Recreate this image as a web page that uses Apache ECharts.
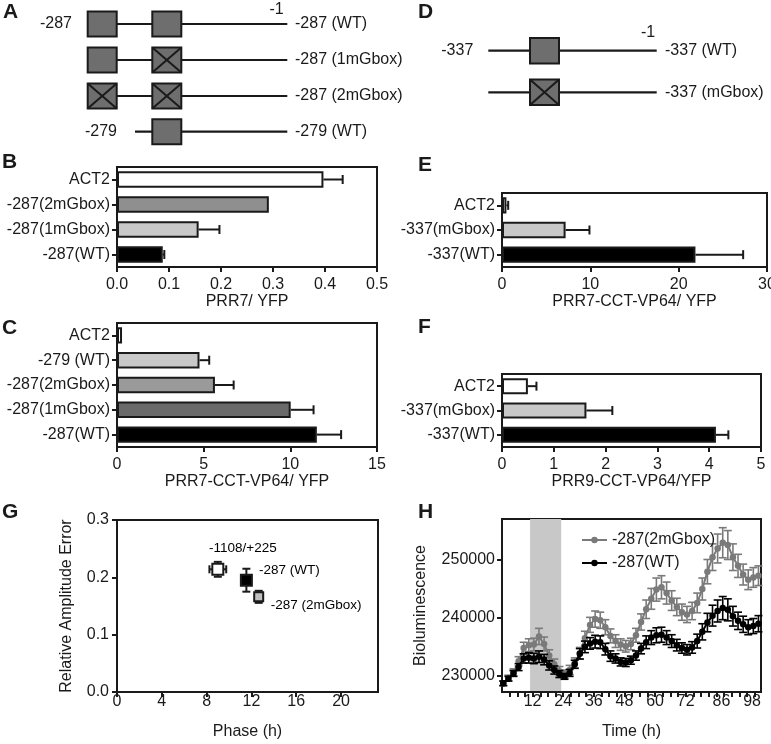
<!DOCTYPE html>
<html><head><meta charset="utf-8">
<script src="https://cdn.jsdelivr.net/npm/echarts@6/dist/echarts.min.js"></script>
<style>html,body{margin:0;padding:0;background:#fff}#c{width:771px;height:744px}</style>
</head><body><div id="c"></div><script>
// ---------------- DATA ----------------
// Panel A / D constructs
const aRows = [
  {left:'-287', boxes:['solid','solid'], name:'-287 (WT)'},
  {left:'',     boxes:['solid','mut'],   name:'-287 (1mGbox)'},
  {left:'',     boxes:['mut','mut'],     name:'-287 (2mGbox)'},
  {left:'-279', boxes:[null,'solid'],    name:'-279 (WT)'}
];
const dRows = [
  {left:'-337', boxes:['solid'], name:'-337 (WT)'},
  {left:'',     boxes:['mut'],   name:'-337 (mGbox)'}
];
// Panel B
const bCats = ['-287(WT)','-287(1mGbox)','-287(2mGbox)','ACT2'];
const bVals = [0.088, 0.157, 0.292, 0.397];
const bErr  = [0.003, 0.040, 0, 0.037];
const bTicks = [0, 0.1, 0.2, 0.3, 0.4, 0.5];
// Panel E
const eCats = ['-337(WT)','-337(mGbox)','ACT2'];
const eVals = [21.9, 7.2, 0.5];
const eErr  = [5.4, 2.7, 0.2];
const eTicks = [0, 10, 20, 30];
// Panel C
const cCats = ['-287(WT)','-287(1mGbox)','-287(2mGbox)','-279 (WT)','ACT2'];
const cVals = [11.53, 10.02, 5.65, 4.76, 0.29];
const cErr  = [1.40, 1.32, 1.08, 0.56, 0];
const cTicks = [0, 5, 10, 15];
// Panel F
const fCats = ['-337(WT)','-337(mGbox)','ACT2'];
const fVals = [4.13, 1.63, 0.50];
const fErr  = [0.24, 0.50, 0.165];
const fTicks = [0, 1, 2, 3, 4, 5];
// Panel G
const gNames    = ['-1108/+225','-287 (WT)','-287 (2mGbox)'];
const gPhase    = [9.0, 11.55, 12.65];
const gPhaseErr = [0.75, 0.25, 0.2];
const gAmp      = [0.214, 0.195, 0.166];
const gAmpErr   = [0.013, 0.020, 0.0105];
const gXTicks = [0, 4, 8, 12, 16, 20];
const gYTicks = [0, 0.1, 0.2, 0.3];
// Panel H
const hTime = [0.5,2.5,4.5,6.5,8.5,10.5,12.5,14.5,16.5,18.5,20.5,22.5,24.5,26.5,28.5,30.5,32.5,34.5,36.5,38.5,40.5,42.5,44.5,46.5,48.5,50.5,52.5,54.5,56.5,58.5,60.5,62.5,64.5,66.5,68.5,70.5,72.5,74.5,76.5,78.5,80.5,82.5,84.5,86.5,88.5,90.5,92.5,94.5,96.5,98.5,100.5];
const hWT = [228700,229500,230400,231500,233000,233100,233000,233300,232800,231800,231000,230300,229900,230500,232000,233800,235000,235600,235900,235800,234600,233400,233000,232400,232300,232700,233500,234700,235800,236600,237000,237100,236600,236000,235300,234800,234500,234900,236000,237600,239200,240400,241200,241700,241400,240300,239500,238900,238400,238600,239000];
const hWTErr = [400,400,500,600,800,900,900,1000,900,800,700,600,500,600,700,900,1000,1000,1100,1100,1000,900,800,700,700,700,800,900,1100,1200,1300,1300,1200,1100,1000,900,900,1000,1200,1400,1600,1800,1900,2000,1900,1700,1500,1400,1300,1300,1400];
const hMut = [228700,229600,230600,232500,234800,235300,235400,236800,235500,233500,232000,230800,230300,231000,232200,233900,236500,238800,239800,239600,238400,236900,236000,235400,235100,235500,237000,239300,241500,243300,244900,245300,244300,243000,241900,241000,240600,241200,242600,245000,248000,250500,252000,253000,252600,250500,249000,247500,246600,247000,247300];
const hMutErr = [400,500,600,800,1000,1100,1100,1400,1200,1000,900,800,700,800,900,1000,1200,1300,1400,1400,1300,1200,1100,1000,1000,1000,1200,1400,1600,1800,2000,2000,1900,1700,1500,1400,1400,1500,1700,1900,2100,2300,2500,2600,2500,2300,2000,1800,1700,1700,1700];
const hNames = ['-287(2mGbox)','-287(WT)'];
const hXLabels = [12,24,36,48,60,72,86,98];
const hXTicks = [3,6,9,12,15,18,21,24,27,30,33,36,39,42,45,48,51,54,57,60,63,66,69,72,75,78,81,84,87,90,93,96,99];
const hYTicks = [230000,240000,250000];
const hNight = [11, 23.2];

// ---------------- STYLE ----------------
const FONT = 'Liberation Sans, Arial, Helvetica, sans-serif';
const INK = '#1a1a1a';
const bColors = ['#000000','#c8c8c8','#8f8f8f','#ffffff'];
const eColors = ['#000000','#c8c8c8','#ffffff'];
const cColors = ['#000000','#6a6a6a','#9a9a9a','#c8c8c8','#ffffff'];
const fColors = ['#000000','#c8c8c8','#ffffff'];

const chart = echarts.init(document.getElementById('c'), null, {renderer:'canvas'});

const grids = [], xAxes = [], yAxes = [], series = [];
function gridBox(l, t, r, b){
  grids.push({left:l, top:t, width:r-l, height:b-t, show:true, borderColor:INK, borderWidth:2,
    backgroundColor:'transparent', containLabel:false, outerBoundsMode:'none'});
  return grids.length-1;
}
function axisBase(){
  return {axisLine:{show:true, lineStyle:{color:INK, width:2}},
    axisTick:{show:true, length:5, lineStyle:{color:INK, width:2}},
    splitLine:{show:false},
    axisLabel:{color:INK, fontSize:16, fontFamily:FONT},
    nameTextStyle:{color:INK, fontSize:16, fontFamily:FONT}};
}
function hbarPanel(box, cats, vals, errs, colors, max, interval, ticks, name, dec){
  const k = gridBox(...box);
  const xa = axisBase();
  Object.assign(xa, {gridIndex:k, type:'value', min:0, max:max, interval:interval,
    name:name, nameLocation:'middle', nameGap:27});
  xa.axisLabel = Object.assign(xa.axisLabel, {margin:10, customValues:ticks,
    formatter: v => dec ? v.toFixed(dec) : String(v)});
  xa.axisTick.customValues = ticks;
  xAxes.push(xa);
  const ya = axisBase();
  Object.assign(ya, {gridIndex:k, type:'category', data:cats});
  ya.axisTick.alignWithLabel = true;
  ya.axisLabel.margin = 7;
  yAxes.push(ya);
  series.push({type:'bar', xAxisIndex:k, yAxisIndex:k, barWidth:'66%', z:2,
    data: vals.map((v,i)=>({value:v, itemStyle:{color:colors[i]}})),
    itemStyle:{borderColor:INK, borderWidth:2}});
  series.push({type:'custom', xAxisIndex:k, yAxisIndex:k, z:1,
    data: vals.map((v,i)=>[v, i, errs[i]]),
    encode:{x:0, y:1},
    renderItem:(p, api)=>{
      const v = api.value(0), i = api.value(1), e = api.value(2);
      if (!e) return null;
      const p0 = api.coord([v, i]), p1 = api.coord([v+e, i]);
      const st = {stroke:INK, lineWidth:2};
      return {type:'group', children:[
        {type:'line', shape:{x1:p0[0], y1:p0[1], x2:p1[0], y2:p1[1]}, style:st},
        {type:'line', shape:{x1:p1[0], y1:p1[1]-4.5, x2:p1[0], y2:p1[1]+4.5}, style:st}
      ]};
    }});
}
hbarPanel([117,167,377,267], bCats, bVals, bErr, bColors, 0.5, 0.1, bTicks, 'PRR7/ YFP', 1);
hbarPanel([502,193,767,267], eCats, eVals, eErr, eColors, 30, 10, eTicks, 'PRR7-CCT-VP64/ YFP', 0);
hbarPanel([117,323,377,447], cCats, cVals, cErr, cColors, 15, 5, cTicks, 'PRR7-CCT-VP64/ YFP', 0);
hbarPanel([502,374,761,447], fCats, fVals, fErr, fColors, 5, 1, fTicks, 'PRR9-CCT-VP64/YFP', 0);

// Panel G
{
  const k = gridBox(117,520,378,692);
  const xa = axisBase();
  Object.assign(xa, {gridIndex:k, type:'value', min:0, max:23.3, name:'Phase (h)', nameLocation:'middle', nameGap:32});
  xa.axisLabel.customValues = gXTicks; xa.axisLabel.margin = 2;
  xa.axisTick.customValues = gXTicks;
  xAxes.push(xa);
  const ya = axisBase();
  Object.assign(ya, {gridIndex:k, type:'value', min:0, max:0.3, interval:0.1, name:'Relative Amplitude Error', nameLocation:'middle', nameGap:42});
  ya.axisLabel.customValues = gYTicks; ya.axisLabel.margin = 8;
  ya.axisLabel.formatter = v => v.toFixed(1);
  ya.axisTick.customValues = gYTicks;
  yAxes.push(ya);
  series.push({type:'custom', xAxisIndex:k, yAxisIndex:k, z:1,
    data: gPhase.map((x,i)=>[x, gAmp[i], gPhaseErr[i], gAmpErr[i]]),
    encode:{x:0, y:1},
    renderItem:(p, api)=>{
      const x=api.value(0), y=api.value(1), ex=api.value(2), ey=api.value(3);
      const l=api.coord([x-ex,y]), r=api.coord([x+ex,y]), t=api.coord([x,y+ey]), b=api.coord([x,y-ey]);
      const st={stroke:INK, lineWidth:2}, c=4;
      return {type:'group', children:[
        {type:'line', shape:{x1:l[0],y1:l[1],x2:r[0],y2:r[1]}, style:st},
        {type:'line', shape:{x1:l[0],y1:l[1]-c,x2:l[0],y2:l[1]+c}, style:st},
        {type:'line', shape:{x1:r[0],y1:r[1]-c,x2:r[0],y2:r[1]+c}, style:st},
        {type:'line', shape:{x1:t[0],y1:t[1],x2:b[0],y2:b[1]}, style:st},
        {type:'line', shape:{x1:t[0]-c,y1:t[1],x2:t[0]+c,y2:t[1]}, style:st},
        {type:'line', shape:{x1:b[0]-c,y1:b[1],x2:b[0]+c,y2:b[1]}, style:st}
      ]};
    }});
  const gFill = ['#ffffff','#000000','#c0c0c0'];
  const gSize = [11, 11, 9];
  const gLab = [
    {position:'top', distance:5, offset:[25,-3]},
    {position:'right', distance:5, offset:[1,-10]},
    {position:'right', distance:5, offset:[1.5,8]}
  ];
  series.push({type:'scatter', xAxisIndex:k, yAxisIndex:k, z:3, symbol:'rect',
    emphasis:{disabled:true},
    data: gPhase.map((x,i)=>({value:[x, gAmp[i]], symbolSize:gSize[i],
      itemStyle:{color:gFill[i], borderColor:INK, borderWidth:2, opacity:1},
      label:Object.assign({show:true, formatter:gNames[i], color:'#000', opacity:1, textBorderWidth:0,
        fontSize:13.5, fontFamily:FONT}, gLab[i])}))});
}

// Panel H
{
  const k = gridBox(502,519,761,692);
  const xa = axisBase();
  Object.assign(xa, {gridIndex:k, type:'value', min:0, max:101.5, name:'Time (h)', nameLocation:'middle', nameGap:32});
  xa.axisLabel.customValues = hXLabels; xa.axisLabel.margin = 2;
  xa.axisLabel.formatter = v => String(v);
  xa.axisTick.customValues = hXTicks;
  xAxes.push(xa);
  const ya = axisBase();
  Object.assign(ya, {gridIndex:k, type:'value', min:227200, max:257100, name:'Bioluminescence', nameLocation:'middle', nameGap:73});
  ya.axisLabel.customValues = hYTicks; ya.axisLabel.margin = 7;
  ya.axisLabel.formatter = v => String(v);
  ya.axisTick.customValues = hYTicks;
  yAxes.push(ya);
  // night band, drawn through the axis scale
  series.push({type:'custom', xAxisIndex:k, yAxisIndex:k, z:0, silent:true,
    data:[[hNight[0], hNight[1]]], encode:{x:[0,1]},
    renderItem:(p, api)=>{
      const cs = p.coordSys;
      const x0 = api.coord([api.value(0), 0])[0], x1 = api.coord([api.value(1), 0])[0];
      return {type:'rect', shape:{x:x0, y:cs.y, width:x1-x0, height:cs.height}, style:{fill:'#c8c8c8'}};
    }});
  const hColors = ['#7a7a7a', '#000000'];
  const hVals = [hMut, hWT], hErrs = [hMutErr, hWTErr];
  hVals.forEach((vals, s)=>{
    series.push({type:'custom', xAxisIndex:k, yAxisIndex:k, z:2+s*2,
      data: hTime.map((t,i)=>[t, vals[i], hErrs[s][i]]),
      encode:{x:0, y:1},
      renderItem:(p, api)=>{
        const x=api.value(0), y=api.value(1), e=api.value(2);
        const t=api.coord([x,y+e]), b=api.coord([x,y-e]);
        const st={stroke:hColors[s], lineWidth:1.6}, c=4;
        return {type:'group', children:[
          {type:'line', shape:{x1:t[0],y1:t[1],x2:b[0],y2:b[1]}, style:st},
          {type:'line', shape:{x1:t[0]-c,y1:t[1],x2:t[0]+c,y2:t[1]}, style:st},
          {type:'line', shape:{x1:b[0]-c,y1:b[1],x2:b[0]+c,y2:b[1]}, style:st}
        ]};
      }});
    series.push({type:'line', name:hNames[s], xAxisIndex:k, yAxisIndex:k, z:3+s*2,
      data: hTime.map((t,i)=>[t, vals[i]]),
      symbol:'circle', symbolSize:6.5, showSymbol:true,
      lineStyle:{color:hColors[s], width:2}, itemStyle:{color:hColors[s]}});
  });
}

// Schematics (A, D) and panel letters
const graphic = [];
function txt(x, y, s, opt){
  graphic.push({type:'text', x:x, y:y,
    style:Object.assign({text:s, fill:INK, fontSize:16, fontFamily:FONT, textVerticalAlign:'middle'}, opt||{})});
}
function box(x, yc, w, h, mut){
  graphic.push({type:'rect', shape:{x:x, y:yc-h/2, width:w, height:h},
    style:{fill:'#6e6e6e', stroke:INK, lineWidth:2}, z:5});
  if (mut){
    graphic.push({type:'line', shape:{x1:x, y1:yc-h/2, x2:x+w, y2:yc+h/2}, style:{stroke:INK, lineWidth:2}, z:6});
    graphic.push({type:'line', shape:{x1:x+w, y1:yc-h/2, x2:x, y2:yc+h/2}, style:{stroke:INK, lineWidth:2}, z:6});
  }
}
function hline(x1, x2, y){
  graphic.push({type:'line', shape:{x1:x1, y1:y, x2:x2, y2:y}, style:{stroke:INK, lineWidth:2.2}, z:4});
}
// A
const aY = [24, 60, 96, 131.7], aBoxX = [87.7, 152.3];
aRows.forEach((r, i)=>{
  const y = aY[i];
  const lineStart = r.boxes[0] ? aBoxX[0] + 29 : 135;
  hline(lineStart, 287.3, y);
  r.boxes.forEach((b, j)=>{ if (b) box(aBoxX[j], y, 29, 25, b === 'mut'); });
  if (r.left) txt(r.boxes[0] ? 72 : 117, y, r.left, {textAlign:'right'});
  txt(295, y, r.name, {textAlign:'left'});
});
txt(276.5, 10, '-1', {textAlign:'center'});
// D
const dY = [50.7, 92.3];
dRows.forEach((r, i)=>{
  const y = dY[i];
  hline(488.3, 656.7, y);
  box(530, y, 29, 25.5, r.boxes[0] === 'mut');
  if (r.left) txt(473.3, y, r.left, {textAlign:'right'});
  txt(665, y, r.name, {textAlign:'left'});
});
txt(648, 33, '-1', {textAlign:'center'});
// letters
[['A',3,12],['D',418,12],['B',2,162],['E',418,165],['C',2,328],['F',418,327],['G',2,512],['H',418,512]]
  .forEach(([s,x,y])=>txt(x, y, s, {fontSize:21, fontWeight:'bold', textAlign:'left'}));

chart.setOption({
  animation:false,
  backgroundColor:'#ffffff',
  textStyle:{fontFamily:FONT},
  grid:grids, xAxis:xAxes, yAxis:yAxes, series:series,
  legend:{data:hNames, left:576, top:527, orient:'vertical', itemWidth:25, itemHeight:8, itemGap:7,
    textStyle:{fontSize:16, color:INK, fontFamily:FONT}, selectedMode:false},
  graphic:graphic
});
</script></body></html>
